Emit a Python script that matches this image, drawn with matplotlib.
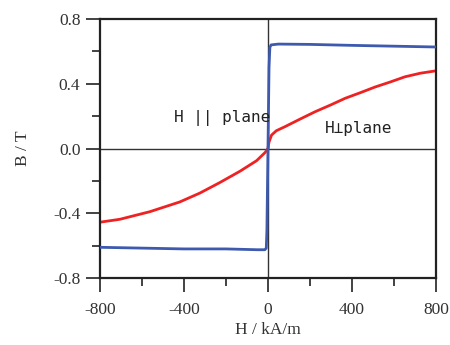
import matplotlib
matplotlib.use("Agg")
import matplotlib.pyplot as plt
from matplotlib.ticker import MultipleLocator

# field H (kA/m) and flux density B (T)
h_par = [-800, -600, -400, -200, -50, -15, -8, -5, 0, 5, 9, 15, 50, 200, 400, 600, 800]
b_par = [-0.61, -0.615, -0.62, -0.62, -0.625, -0.625, -0.615, -0.5, 0.0, 0.5, 0.625, 0.64, 0.645, 0.643, 0.637, 0.632, 0.627]

h_perp = [-800, -705, -562, -420, -324, -229, -133, -54, -14, 0, 5, 17, 40, 81, 150, 224, 300,
          367, 440, 510, 580, 652, 725, 800]
b_perp = [-0.455, -0.437, -0.39, -0.33, -0.275, -0.21, -0.14, -0.075, -0.025, 0.0, 0.04, 0.083,
          0.11, 0.135, 0.18, 0.227, 0.27, 0.31, 0.345, 0.38, 0.41, 0.443, 0.465, 0.48]

serif = "Liberation Serif"
mono = ["DejaVu Sans Mono", "DejaVu Sans"]

fig = plt.figure(figsize=(4.5, 3.45), dpi=100)
ax = fig.add_axes([0.222, 0.194, 0.747, 0.751])

ax.axhline(0, color="#333333", lw=1.0, zorder=1)
ax.axvline(0, color="#333333", lw=1.0, zorder=1)

ax.plot(h_perp, b_perp, color="#ee2222", lw=2.0, zorder=2)
ax.plot(h_par, b_par, color="#3d5aae", lw=2.0, zorder=3)

ax.set_xlim(-800, 800)
ax.set_ylim(-0.8, 0.8)
ax.xaxis.set_minor_locator(MultipleLocator(200))
ax.yaxis.set_minor_locator(MultipleLocator(0.2))
ax.set_xticks([-800, -400, 0, 400, 800])
ax.set_xticklabels(["-800", "-400", "0", "400", "800"], family=serif, fontsize=12.5)
ax.set_yticks([-0.8, -0.4, 0.0, 0.4, 0.8])
ax.set_yticklabels(["-0.8", "-0.4", "0.0", "0.4", "0.8"], family=serif, fontsize=12.5)

ax.tick_params(which="major", direction="out", length=10, width=1.2, colors="#222222",
               labelcolor="#333333")
ax.tick_params(axis="x", which="major", pad=7)
ax.tick_params(axis="y", which="major", pad=4)
ax.tick_params(which="minor", direction="out", length=5.5, width=1.2, colors="#222222")
for s in ax.spines.values():
    s.set_linewidth(1.6)
    s.set_color("#222222")

ax.set_xlabel("H / kA/m", family=serif, fontsize=12.5, color="#333333", labelpad=3)
ax.set_ylabel("B / T", family=serif, fontsize=12.5, color="#333333", labelpad=16)

ax.text(-445, 0.19, "H || plane", family=mono, fontsize=11.5, color="#222222", va="center")
ax.text(272, 0.125, "H\u22a5plane", family=mono, fontsize=11.5, color="#222222", va="center")

fig.savefig("out.png", dpi=100)
